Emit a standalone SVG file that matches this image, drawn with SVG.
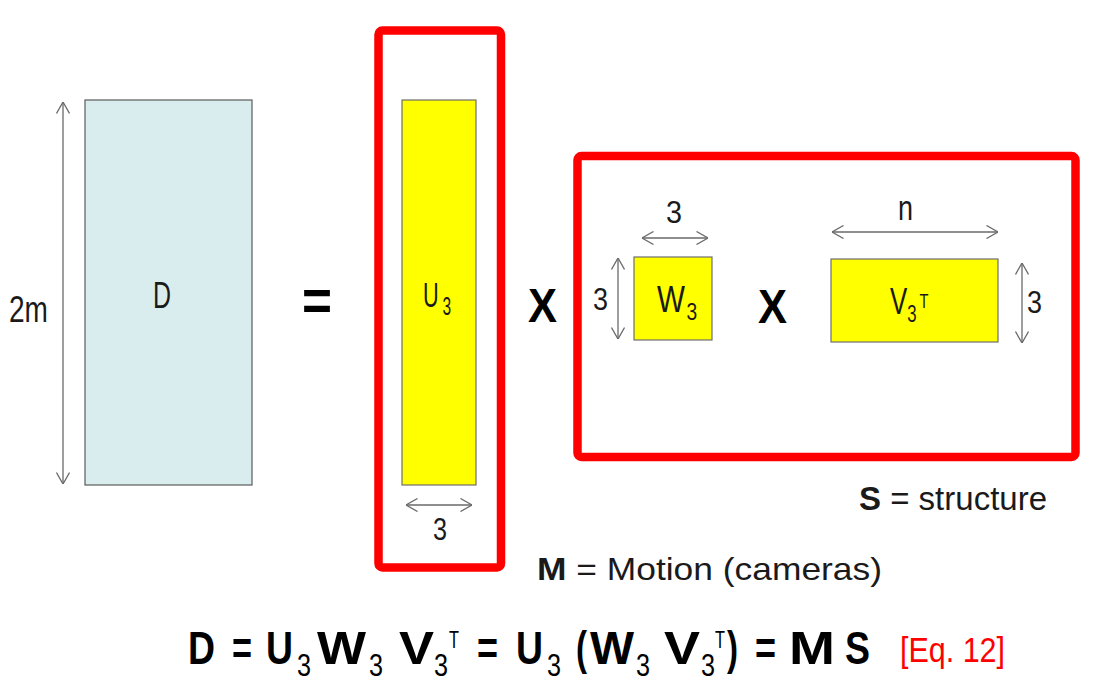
<svg xmlns="http://www.w3.org/2000/svg" width="1093" height="684" viewBox="0 0 1093 684">
<style>
.lbl{font-family:"Liberation Sans",Arial,sans-serif;fill:#1a1a1a}
.eq{font-family:"Liberation Sans",Arial,sans-serif;fill:#000;font-size:46px}
.b{font-weight:bold}
.s{font-size:32px;font-weight:normal}
.t{font-size:23px;font-weight:normal}
.op{font-family:"Liberation Sans",Arial,sans-serif;font-weight:bold;fill:#000}
.red{fill:none;stroke:#ff0000;stroke-width:8.5;stroke-linejoin:round}
.yel{fill:#ffff00;stroke:#6e6e6e;stroke-width:1.2}
.dim{stroke:#6a6a6a;stroke-width:1.3;fill:none;marker-start:url(#ah);marker-end:url(#ah)}
</style>
<defs>
<marker id="ah" viewBox="0 0 12 14" refX="12" refY="7" markerWidth="12" markerHeight="14" markerUnits="userSpaceOnUse" orient="auto-start-reverse">
<path d="M0.5,0.5 L12,7 L0.5,13.5" fill="none" stroke="#6a6a6a" stroke-width="1.3"/>
</marker>
</defs>
<rect width="1093" height="684" fill="#fff"/>

<g id="D">
<rect x="85" y="100" width="167" height="385" fill="#daedee" stroke="#5a5a5a" stroke-width="1.2"/>
<text class="lbl" x="153" y="308" font-size="36" textLength="18" lengthAdjust="spacingAndGlyphs">D</text>
</g>
<g id="label-2m">
<text class="lbl" x="9" y="322" font-size="36" textLength="39" lengthAdjust="spacingAndGlyphs">2m</text>
</g>
<g id="equals">
<text class="op" x="302" y="320" font-size="58" textLength="30" lengthAdjust="spacingAndGlyphs">=</text>
</g>

<g id="M-box">
<rect class="red" x="378.5" y="30.5" width="122.5" height="537" rx="4"/>
<rect class="yel" x="402" y="100" width="74" height="385"/>
<text class="lbl" transform="translate(423,307) scale(0.62,1)" font-size="35">U<tspan dx="6" dy="8" font-size="25">3</tspan></text>
<text class="lbl" x="433" y="540" font-size="32" textLength="14" lengthAdjust="spacingAndGlyphs">3</text>
</g>

<g id="times1">
<text class="op" x="528" y="322" font-size="48" textLength="29" lengthAdjust="spacingAndGlyphs">X</text>
</g>

<g id="S-box">
<rect class="red" x="577.5" y="156" width="498" height="301" rx="4"/>
</g>
<g id="W3">
<rect class="yel" x="634" y="257" width="78" height="83"/>
<text class="lbl" transform="translate(657,312) scale(0.8,1)" font-size="37">W<tspan dx="2" dy="8" font-size="24">3</tspan></text>
<text class="lbl" x="666" y="223" font-size="32" textLength="16" lengthAdjust="spacingAndGlyphs">3</text>
<text class="lbl" x="593" y="310" font-size="32" textLength="15" lengthAdjust="spacingAndGlyphs">3</text>
</g>
<g id="times2">
<text class="op" x="758" y="323" font-size="48" textLength="29" lengthAdjust="spacingAndGlyphs">X</text>
</g>
<g id="V3T">
<rect class="yel" x="831" y="259" width="167" height="83"/>
<text class="lbl" transform="translate(890,314) scale(0.7,1)" font-size="37">V<tspan dy="8" font-size="24">3</tspan><tspan dx="4" dy="-14" font-size="21">T</tspan></text>
<text class="lbl" x="898" y="220" font-size="35" textLength="15" lengthAdjust="spacingAndGlyphs">n</text>
<text class="lbl" x="1027" y="313" font-size="32" textLength="15" lengthAdjust="spacingAndGlyphs">3</text>
</g>

<g id="connectors">
<line class="dim" x1="63" y1="102" x2="63" y2="484"/>
<line class="dim" x1="406" y1="505" x2="472" y2="505"/>
<line class="dim" x1="642" y1="238" x2="708" y2="238"/>
<line class="dim" x1="618" y1="258" x2="618" y2="339"/>
<line class="dim" x1="832" y1="232" x2="998" y2="232"/>
<line class="dim" x1="1022" y1="263" x2="1022" y2="343"/>
</g>

<g id="S-label">
<text class="lbl" x="859" y="510" font-size="33" fill="#000" textLength="188" lengthAdjust="spacingAndGlyphs"><tspan font-weight="bold">S</tspan> = structure</text>
</g>
<g id="M-label">
<text class="lbl" x="537" y="580" font-size="32" textLength="345" lengthAdjust="spacingAndGlyphs"><tspan font-weight="bold">M</tspan> = Motion (cameras)</text>
</g>

<g id="equation">
<text class="eq"><tspan class="b" x="188" y="664" textLength="27" lengthAdjust="spacingAndGlyphs">D</tspan><tspan class="b" x="232" y="664" textLength="20" lengthAdjust="spacingAndGlyphs">=</tspan><tspan class="b" x="266" y="664" textLength="27" lengthAdjust="spacingAndGlyphs">U</tspan><tspan class="s" x="297" y="676" textLength="14" lengthAdjust="spacingAndGlyphs">3</tspan><tspan class="b" x="317" y="664" textLength="49" lengthAdjust="spacingAndGlyphs">W</tspan><tspan class="s" x="369" y="676" textLength="14" lengthAdjust="spacingAndGlyphs">3</tspan><tspan class="b" x="399" y="664" textLength="35" lengthAdjust="spacingAndGlyphs">V</tspan><tspan class="s" x="434" y="676" textLength="14" lengthAdjust="spacingAndGlyphs">3</tspan><tspan class="t" x="449" y="648" textLength="10" lengthAdjust="spacingAndGlyphs">T</tspan><tspan class="b" x="477" y="664" textLength="21" lengthAdjust="spacingAndGlyphs">=</tspan><tspan class="b" x="516" y="664" textLength="27" lengthAdjust="spacingAndGlyphs">U</tspan><tspan class="s" x="547" y="676" textLength="14" lengthAdjust="spacingAndGlyphs">3</tspan><tspan class="b" x="576" y="664" textLength="11" lengthAdjust="spacingAndGlyphs">(</tspan><tspan class="b" x="590" y="664" textLength="44" lengthAdjust="spacingAndGlyphs">W</tspan><tspan class="s" x="636" y="676" textLength="14" lengthAdjust="spacingAndGlyphs">3</tspan><tspan class="b" x="664" y="664" textLength="36" lengthAdjust="spacingAndGlyphs">V</tspan><tspan class="s" x="701" y="676" textLength="14" lengthAdjust="spacingAndGlyphs">3</tspan><tspan class="t" x="715" y="648" textLength="10" lengthAdjust="spacingAndGlyphs">T</tspan><tspan class="b" x="727" y="664" textLength="11" lengthAdjust="spacingAndGlyphs">)</tspan><tspan class="b" x="755" y="664" textLength="21" lengthAdjust="spacingAndGlyphs">=</tspan><tspan class="b" x="789" y="664" textLength="46" lengthAdjust="spacingAndGlyphs">M</tspan><tspan class="b" x="845" y="664" textLength="25" lengthAdjust="spacingAndGlyphs">S</tspan></text>
<text x="900" y="662" font-family="Liberation Sans, Arial, sans-serif" font-size="35" fill="#ff0000" textLength="105" lengthAdjust="spacingAndGlyphs">[Eq. 12]</text>
</g>
</svg>
